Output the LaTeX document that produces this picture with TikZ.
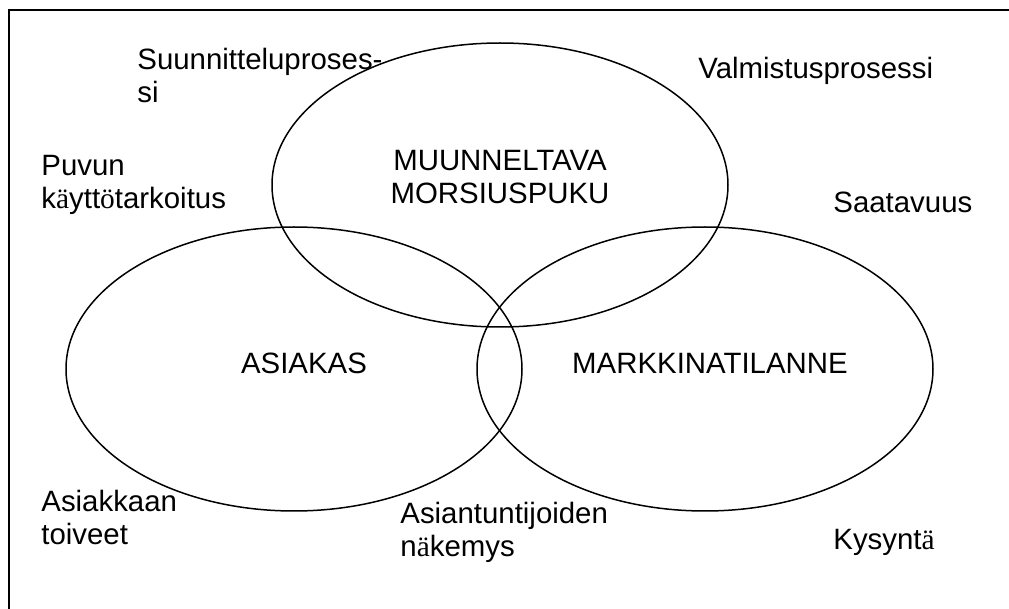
\documentclass[tikz,border=0pt]{standalone}
\usepackage{fontspec}
\setmainfont{Liberation Sans}
\newfontfamily\umlautfont{Liberation Serif}
\usetikzlibrary{shapes.geometric}
\newcommand{\ua}{{\umlautfont ä}}
\newcommand{\uo}{{\umlautfont ö}}
\begin{document}
\begin{tikzpicture}[
  x=0.5pt, y=-0.5pt,
  every node/.style={font=\fontsize{14.7}{16.7}\selectfont, inner sep=0pt},
  venn/.style={draw, ellipse, line width=0.75pt, minimum width=228pt, minimum height=142pt},
  factor/.style={anchor=base west, align=left},
  title/.style={anchor=base, align=center},
  frame/.style={draw, line width=1pt}
]
\useasboundingbox (0,0) rectangle (1009,609);
% frame, only top and left edges show
\coordinate (frameBL) at (9,609);
\coordinate (frameTL) at (9,10);
\coordinate (frameTR) at (1009,10);
\draw[frame] (frameBL) -- (frameTL) -- (frameTR);

% the three circles
\node[venn] (puku) at (500,185) {};
\node[venn] (asiakas) at (294,369) {};
\node[venn] (markkina) at (705,369) {};

% base = last line
\node[title] (pukuTxt) at (500,204) {MUUNNELTAVA\\MORSIUSPUKU};
\node[title] (asiakasTxt) at (304,374) {ASIAKAS};
\node[title] (markkinaTxt) at (710,374) {MARKKINATILANNE};

% factors round the circles
\node[factor] (suunnittelu) at (137,103) {Suunnitteluproses-\\si};
\node[factor] (valmistus) at (698,79) {Valmistusprosessi};
\node[factor] (kaytto) at (41,209) {Puvun\\k\ua ytt\uo tarkoitus};
\node[factor] (saatavuus) at (833,213) {Saatavuus};
\node[factor] (toiveet) at (41,545) {Asiakkaan\\toiveet};
\node[factor] (nakemys) at (400,557) {Asiantuntijoiden\\n\ua kemys};
\node[factor] (kysynta) at (833,550) {Kysynt\ua};
\end{tikzpicture}
\end{document}
